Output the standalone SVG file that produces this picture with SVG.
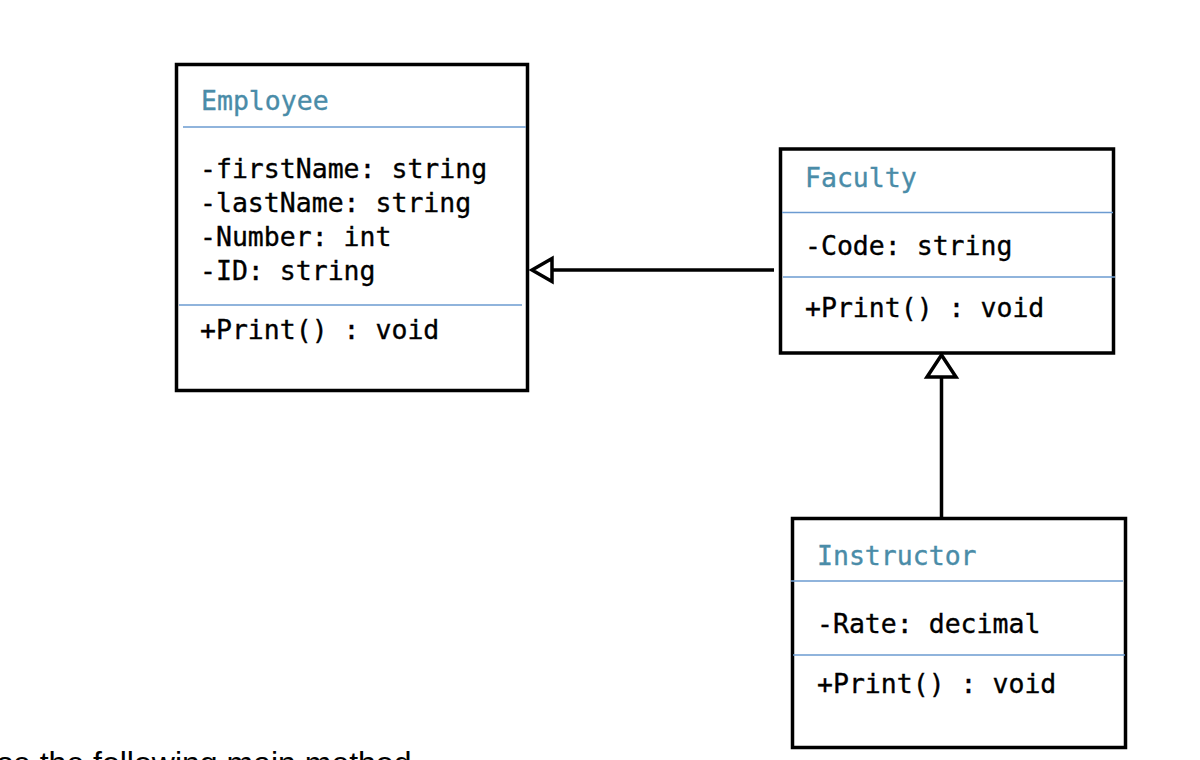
<svg xmlns="http://www.w3.org/2000/svg" width="1200" height="760" viewBox="0 0 1200 760">
<defs>
<style>
.box{fill:#ffffff;stroke:#000000;stroke-width:3.5}
.sep{stroke:#6b9bd1;stroke-width:1.6}
.title{font-family:"DejaVu Sans Mono","Liberation Mono",monospace;font-size:26.5px;fill:#4a8ca8;stroke:#4a8ca8;stroke-width:0.35}
.mem{font-family:"DejaVu Sans Mono","Liberation Mono",monospace;font-size:26.5px;fill:#000000;stroke:#000000;stroke-width:0.35}
.conn{stroke:#000000;stroke-width:3.5;fill:none}
.head{stroke:#000000;stroke-width:3.5;fill:#ffffff;stroke-linejoin:miter}
.note{font-family:"Liberation Sans",Arial,sans-serif;font-size:32px;fill:#000000}
</style>
</defs>
<rect width="1200" height="760" fill="#ffffff"/>
<g id="Employee">
<rect class="box" x="176.5" y="64.5" width="351" height="326"/>
<text class="title" x="201" y="110">Employee</text>
<line class="sep" x1="183" y1="127" x2="526" y2="127"/>
<text class="mem" x="200" y="178">-firstName: string</text>
<text class="mem" x="200" y="212">-lastName: string</text>
<text class="mem" x="200" y="246">-Number: int</text>
<text class="mem" x="200" y="280">-ID: string</text>
<line class="sep" x1="179" y1="305" x2="522" y2="305"/>
<text class="mem" x="200" y="339">+Print() : void</text>
</g>
<g id="Faculty">
<rect class="box" x="780.5" y="149" width="333" height="204"/>
<text class="title" x="805" y="187">Faculty</text>
<line class="sep" x1="782" y1="212.5" x2="1113" y2="212.5"/>
<text class="mem" x="805" y="255">-Code: string</text>
<line class="sep" x1="783" y1="277" x2="1115" y2="277"/>
<text class="mem" x="805" y="317">+Print() : void</text>
</g>
<g id="Instructor">
<rect class="box" x="792.5" y="518.5" width="333" height="229"/>
<text class="title" x="817" y="565">Instructor</text>
<line class="sep" x1="791" y1="581" x2="1123" y2="581"/>
<text class="mem" x="817" y="633">-Rate: decimal</text>
<line class="sep" x1="793" y1="655" x2="1125" y2="655"/>
<text class="mem" x="817" y="693">+Print() : void</text>
</g>
<g id="connectors">
<line class="conn" x1="774" y1="270" x2="552" y2="270"/>
<polygon class="head" points="532,270 552,258.5 552,281.5"/>
<line class="conn" x1="941.5" y1="517" x2="941.5" y2="377"/>
<polygon class="head" points="941.5,355 927,377 956,377"/>
</g>
<text class="note" x="-3" y="774">se the following main method</text>
</svg>
